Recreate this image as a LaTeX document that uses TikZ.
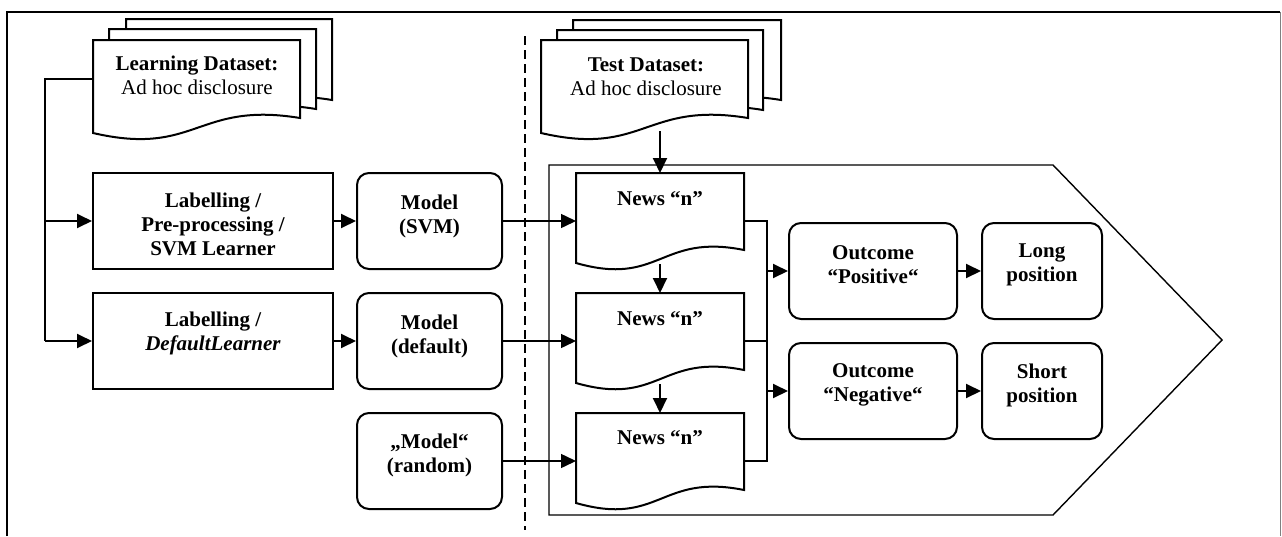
\documentclass[tikz,border=0pt]{standalone}
\usepackage{fontspec}
\setmainfont{Liberation Serif}
\usetikzlibrary{arrows.meta}
\newcommand\docshape[5]{%
  \draw[docline] (#1,#2) -- ({#1+#3},#2) -- ({#1+#3},{#2+#5})
    .. controls ({#1+0.5*#3},{#2+#5-17}) and ({#1+0.5*#3},{#2+#4+24}) .. (#1,{#2+#4}) -- cycle;}
\begin{document}
\begin{tikzpicture}[x=1pt,y=-1pt,
  docline/.style={line width=2pt, fill=white, line join=miter},
  box/.style={draw, line width=2pt, minimum width=#1, minimum height=96pt, inner sep=0pt},
  rbox/.style={box=#1, rounded corners=12pt},
  txt/.style={font=\fontsize{21}{24}\selectfont\bfseries, align=center, inner sep=0pt},
  arr/.style={line width=1.9pt, -{Triangle[length=15pt,width=14pt]}},
  tarr/.style={line width=1.5pt, -{Triangle[length=15pt,width=14pt]}},
  ln/.style={line width=1.9pt},
]
\useasboundingbox (0,0) rectangle (1282,536);
% frame
\draw[line width=2pt] (7,536) -- (7,12) -- (1280,12);
\draw[gray, line width=1pt] (1280,12) -- (1280,536);
% separator
\draw[line width=1.8pt, dash pattern=on 9pt off 5pt] (525,36) -- (525,530);
% pentagon
\draw[line width=1.4pt] (549,165) -- (1053,165) -- (1222,340) -- (1053,515) -- (549,515) -- cycle;

% learning dataset stack
\docshape{126}{19}{206}{96}{81}
\docshape{109}{29}{207}{95}{80}
\docshape{93}{40}{207}{93}{78}
\node[txt] (ld) at (197,75) {Learning Dataset:\\\mdseries Ad hoc disclosure};
\coordinate (ldL) at (93,79);

% test dataset stack
\docshape{573}{20}{208}{95}{80}
\docshape{557}{30}{206}{95}{80}
\docshape{541}{40}{207}{93}{78}
\node[txt] (td) at (646,77) {Test Dataset:\\\mdseries Ad hoc disclosure};
\coordinate (tdB) at (660,131);

% news docs
\docshape{576}{173}{168}{90}{77}
\docshape{576}{293}{168}{90}{77}
\docshape{576}{413}{168}{90}{77}
\node[txt] (n1) at (660,199) {News “n”};
\node[txt] (n2) at (660,319) {News “n”};
\node[txt] (n3) at (660,438) {News “n”};
\coordinate (n1T) at (660,173);
\coordinate (n2T) at (660,293);
\coordinate (n3T) at (660,413);
\coordinate (n1B) at (660,264);
\coordinate (n2B) at (660,384);
\coordinate (n1L) at (576,221);
\coordinate (n2L) at (576,341);
\coordinate (n3L) at (576,461);
\coordinate (n1R) at (744,221);
\coordinate (n2R) at (744,341);
\coordinate (n3R) at (744,461);
\coordinate (bR1) at (767,221);
\coordinate (bR3) at (767,461);
\coordinate (bRp) at (767,271);
\coordinate (bRn) at (767,391);

% left boxes
\node[box=240pt] (svm) at (213,221) {};
\node[txt] (svmt) at (213,224) {Labelling /\\Pre-processing /\\SVM Learner};
\node[box=240pt] (dl) at (213,341) {};
\node[txt] (dlt) at (213,333) {Labelling /\\\textit{DefaultLearner}};

% models
\node[rbox=145pt] (msvm) at (429.5,221) {};
\node[txt] (msvmt) at (429.5,216) {Model\\(SVM)};
\node[rbox=145pt] (mdef) at (429.5,341) {};
\node[txt] (mdeft) at (429.5,336) {Model\\(default)};
\node[rbox=145pt] (mrnd) at (429.5,461) {};
\node[txt] (mrndt) at (429.5,455) {„Model“\\(random)};

% outcomes
\node[rbox=168pt] (pos) at (873,271) {};
\node[txt] (post) at (873,265) {Outcome\\“Positive“};
\node[rbox=168pt] (neg) at (873,391) {};
\node[txt] (negt) at (873,385) {Outcome\\“Negative“};
\node[rbox=120pt] (long) at (1042,271) {};
\node[txt] (longt) at (1042,265) {Long\\position};
\node[rbox=120pt] (short) at (1042,391) {};
\node[txt] (shortt) at (1042,385) {Short\\position};

% connectors left
\coordinate (b1) at (45,221);
\coordinate (b2) at (45,341);
\draw[ln] (ldL) -| (b2);
\draw[arr] (b1) -- (svm.west);
\draw[arr] (b2) -- (dl.west);
\draw[arr] (svm.east) -- (msvm.west);
\draw[arr] (dl.east) -- (mdef.west);
\draw[tarr] (msvm.east) -- (n1L);
\draw[tarr] (mdef.east) -- (n2L);
\draw[tarr] (mrnd.east) -- (n3L);
\draw[arr] (tdB) -- (n1T);
\draw[arr] (n1B) -- (n2T);
\draw[arr] (n2B) -- (n3T);
% right bus
\draw[ln] (n1R) -- (bR1) -- (bR3) -- (n3R);
\draw[ln] (n2R) -- (767,341);
\draw[arr] (bRp) -- (pos.west);
\draw[arr] (bRn) -- (neg.west);
\draw[arr] (pos.east) -- (long.west);
\draw[arr] (neg.east) -- (short.west);
\end{tikzpicture}
\end{document}
